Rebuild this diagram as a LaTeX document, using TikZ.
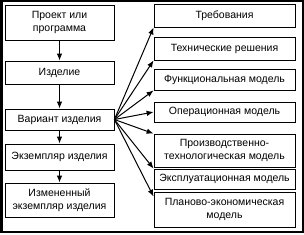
\documentclass[tikz,border=0pt]{standalone}
\usepackage{fontspec}
\setmainfont{Liberation Sans}
\usetikzlibrary{arrows.meta}

\begin{document}
\begin{tikzpicture}[x=1pt,y=-1pt,
    box/.style={draw, line width=0.8pt, inner sep=0pt, align=center,
      font=\fontsize{10.5}{13.5}\selectfont},
    lbox/.style={box, minimum width=109pt},
    rbox/.style={box, minimum width=141pt},
    arr/.style={line width=1pt, -{Latex[length=7pt,width=5.5pt]}}]
  \def\lx{59.5}
  \def\rx{224.5}
  \useasboundingbox (0,0) rectangle (304,234);
  \draw[line width=2.5pt] (1.25,1) rectangle (302.75,231.75);
  % left column
  \node[lbox, minimum height=35pt] (proj) at (\lx,22.5) {Проект или\\программа};
  \node[lbox, minimum height=23pt] (izd) at (\lx,72.5) {Изделие};
  \node[lbox, minimum height=21pt] (var) at (\lx,119.5) {Вариант изделия};
  \node[lbox, minimum height=26pt] (ekz) at (\lx,157) {Экземпляр изделия};
  \node[lbox, minimum height=34pt] (izm) at (\lx,200) {Измененный\\экземпляр изделия};
  % right column
  \node[rbox, minimum height=23pt] (treb) at (\rx,15.5) {Требования};
  \node[rbox, minimum height=23pt] (tech) at (\rx,48.5) {Технические решения};
  \node[rbox, minimum height=21pt] (func) at (\rx,79.5) {Функциональная модель};
  \node[rbox, minimum height=20pt] (oper) at (\rx,112) {Операционная модель};
  \node[rbox, minimum height=33pt] (prod) at (\rx,150.5) {Производственно-\\технологическая модель};
  \node[rbox, minimum height=20pt] (expl) at (\rx,179) {Эксплуатационная модель};
  \node[rbox, minimum height=35pt] (plan) at (\rx,209.5) {Планово-экономическая\\модель};
  % chain
  \draw[arr] (proj) -- (izd);
  \draw[arr] (izd) -- (var);
  \draw[arr] (var) -- (ekz);
  \draw[arr] (ekz) -- (izm);
  % fan
  \draw[arr] (var.east) -- (treb.south west);
  \draw[arr] (var.east) -- (tech.south west);
  \draw[arr] (var.east) -- (func.south west);
  \draw[arr] (var.east) -- (oper.west);
  \draw[arr] (var.east) -- (prod.north west);
  \draw[arr] (var.east) -- (expl.north west);
  \draw[arr] (var.east) -- ([yshift=-5pt]plan.north west);
\end{tikzpicture}
\end{document}
